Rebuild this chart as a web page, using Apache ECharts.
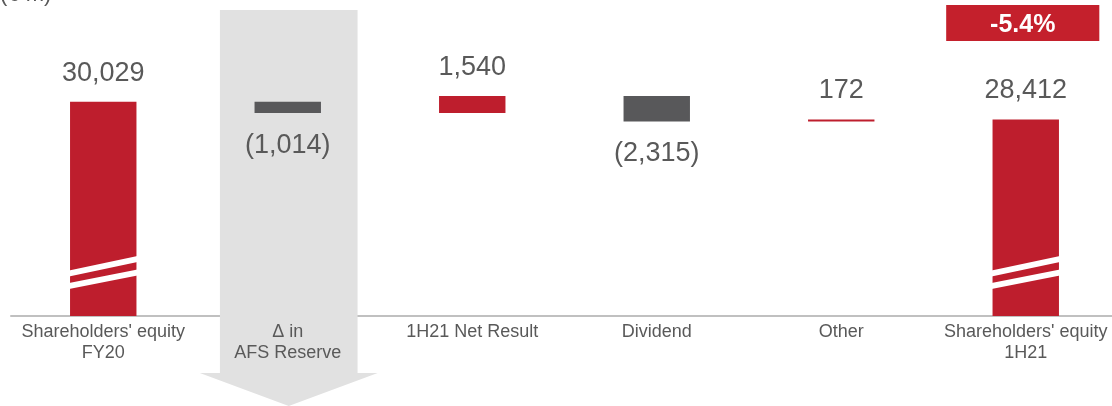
<!DOCTYPE html>
<html>
<head>
<meta charset="utf-8">
<script src="https://cdn.jsdelivr.net/npm/echarts@6/dist/echarts.min.js"></script>
<style>
  html, body { margin: 0; padding: 0; background: #fff; }
  #chart { width: 1112px; height: 406px; }
</style>
</head>
<body>
<div id="chart"></div>
<script>
// Equity bridge, FY20 -> 1H21 (€ m)
const categories = ["Shareholders' equity\nFY20", "Δ in\nAFS Reserve", "1H21 Net Result", "Dividend", "Other", "Shareholders' equity\n1H21"];
const steps = [30029, -1014, 1540, -2315, 172, 28412];
const isTotal = [true, false, false, false, false, true];
const unitLabel = "(€ m)";
const highlightIndex = 1; // step shown with the down arrow behind it

const RED = '#BE1E2D';
const BADGE_RED = '#C4202C';
const DARK = '#58585A';
const TEXT = '#595959';
const BAND = '#E1E1E1';
const FONT = "'Liberation Sans', Arial, sans-serif";
const Y_MIN = 10500, Y_MAX = 38400;

// running totals -> [x, low, high, value, total flag]
let running = 0;
const spans = steps.map((v, i) => {
  if (isTotal[i]) { running = v; return [i, Y_MIN, v, v, 1]; }
  const from = running;
  running += v;
  return [i, Math.min(from, running), Math.max(from, running), v, 0];
});

const fmt = v => {
  const s = Math.abs(v).toLocaleString('en-US');
  return v < 0 ? '(' + s + ')' : s;
};
const first = steps[0], last = steps[steps.length - 1];
const pctText = ((last - first) / first * 100).toFixed(1) + '%';

function renderBar(params, api) {
  const i = api.value(0), lo = api.value(1), hi = api.value(2), v = api.value(3), total = api.value(4);
  const cs = params.coordSys;
  const base = cs.y + cs.height;
  const w = api.size([1, 0])[0] * 0.36;
  const top = api.coord([i, hi]);
  const cx = top[0];
  const yTop = top[1];
  const yBot = total ? base : api.coord([i, lo])[1];
  const x0 = cx - w / 2, x1 = cx + w / 2;
  const color = (total || v >= 0) ? RED : DARK;
  const children = [{
    type: 'rect',
    shape: { x: x0, y: yTop, width: w, height: Math.max(yBot - yTop, 2) },
    style: { fill: color }
  }];
  if (total) {
    // axis-break stripes across the total bars
    [[45.5, 39.5, 60, 54], [33, 27, 46.5, 40.5]].forEach(s => {
      children.push({
        type: 'polygon',
        shape: { points: [[x0 - 1, base - s[0]], [x1 + 1, base - s[2]], [x1 + 1, base - s[3]], [x0 - 1, base - s[1]]] },
        style: { fill: '#fff' }
      });
    });
  }
  const above = total || v >= 0;
  children.push({
    type: 'text',
    style: {
      text: fmt(v),
      x: cx,
      y: above ? yTop - 15 : yBot + 19,
      align: 'center',
      verticalAlign: above ? 'bottom' : 'top',
      fill: TEXT,
      font: '27px ' + FONT
    }
  });
  return { type: 'group', children };
}

function renderArrow(params, api) {
  const cs = params.coordSys;
  const base = cs.y + cs.height;
  const cw = api.size([1, 0])[0];
  const cx = api.coord([api.value(0), Y_MIN])[0] + 1;
  const bw = cw * 0.373, ww = cw * 0.482;
  const top = cs.y, sh = base + 57, tip = base + 90;
  return {
    type: 'polygon',
    shape: { points: [[cx - bw, top], [cx + bw, top], [cx + bw, sh], [cx + ww, sh], [cx, tip], [cx - ww, sh], [cx - bw, sh]] },
    style: { fill: BAND }
  };
}

function renderBadge(params, api) {
  const cs = params.coordSys;
  const cw = api.size([1, 0])[0];
  const cx = api.coord([api.value(0), Y_MIN])[0] - 3;
  const w = cw * 0.83;
  return {
    type: 'group',
    children: [
      { type: 'rect', shape: { x: cx - w / 2, y: cs.y - 5, width: w, height: 36 }, style: { fill: BADGE_RED } },
      { type: 'text', style: { text: pctText, x: cx, y: cs.y + 15, align: 'center', verticalAlign: 'middle', fill: '#fff', font: 'bold 25px ' + FONT } }
    ]
  };
}

const chart = echarts.init(document.getElementById('chart'), null, { renderer: 'canvas' });
chart.setOption({
  animation: false,
  backgroundColor: '#fff',
  // plot area runs a little past the right edge of the canvas
  grid: { left: 11, width: 1107, top: 10, bottom: 90, containLabel: false, outerBoundsMode: 'none' },
  xAxis: [
    {
      type: 'category', data: categories, boundaryGap: true,
      axisLine: { lineStyle: { color: '#C0C0C0', width: 2 } },
      axisTick: { show: false }, axisLabel: { show: false }, splitLine: { show: false }, z: 0
    },
    {
      type: 'category', data: categories, boundaryGap: true, position: 'bottom',
      axisLine: { show: false }, axisTick: { show: false }, splitLine: { show: false },
      axisLabel: { interval: 0, color: TEXT, fontSize: 18, lineHeight: 21, margin: 6, fontFamily: FONT },
      z: 5
    }
  ],
  yAxis: { type: 'value', min: Y_MIN, max: Y_MAX, show: false, splitLine: { show: false } },
  graphic: [{
    type: 'text', left: 0, top: -16,
    style: { text: unitLabel, font: '22px ' + FONT, fill: TEXT }
  }],
  series: [
    { type: 'custom', name: 'arrow', z: 1, clip: false, renderItem: renderArrow, data: [[highlightIndex]], encode: { x: 0 }, silent: true },
    { type: 'custom', name: 'bridge', z: 3, clip: false, renderItem: renderBar, data: spans, encode: { x: 0, y: [1, 2] } },
    { type: 'custom', name: 'change', z: 4, clip: false, renderItem: renderBadge, data: [[steps.length - 1]], encode: { x: 0 }, silent: true }
  ]
});
</script>
</body>
</html>
